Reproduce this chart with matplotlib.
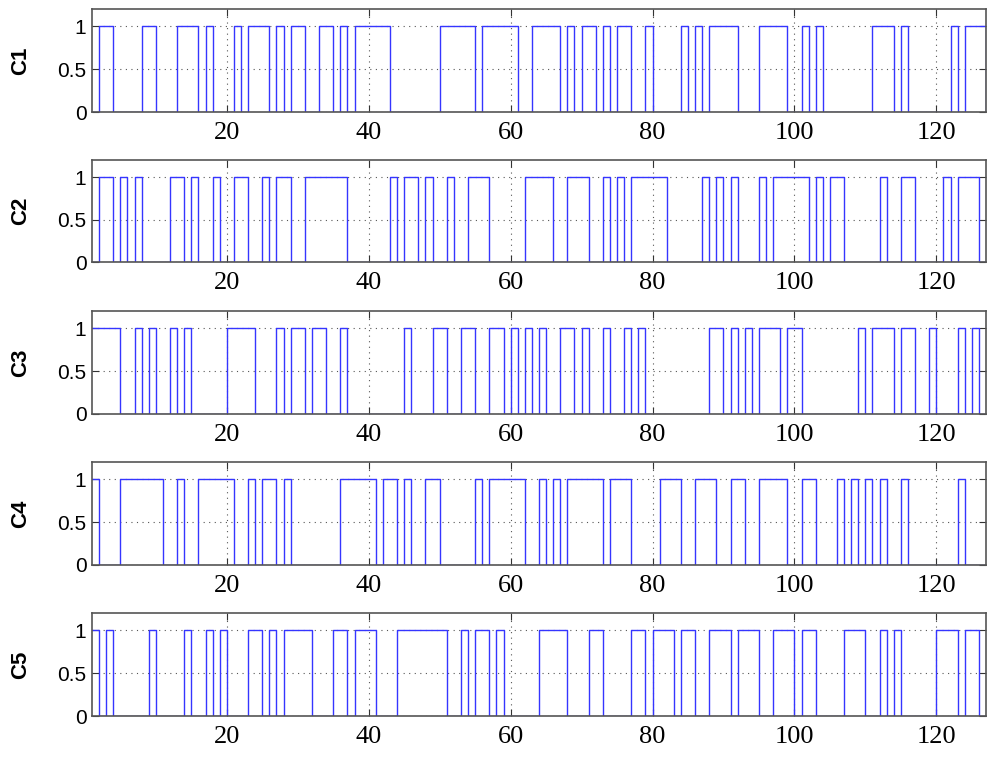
import matplotlib
matplotlib.use("Agg")
import matplotlib.pyplot as plt
import numpy as np

# sample positions (stairs drawn between integer samples)
x = np.arange(1, 128)

# "on" intervals (start, end) read from each channel
c1_on = [(2, 4), (8, 10), (13, 16), (17, 18), (21, 22), (23, 26), (27, 28), (29, 31),
         (33, 35), (36, 37), (38, 43), (50, 55), (56, 61), (63, 67), (68, 69), (70, 72),
         (73, 74), (75, 77), (79, 80), (84, 85), (86, 87), (88, 92), (95, 99), (101, 102),
         (103, 104), (111, 114), (115, 116), (122, 123), (124, 127)]
c2_on = [(2, 4), (5, 6), (7, 8), (12, 14), (15, 16), (18, 19), (21, 23), (25, 26),
         (27, 29), (31, 37), (43, 44), (45, 47), (48, 49), (51, 52), (54, 57), (62, 66),
         (68, 71), (73, 74), (75, 76), (77, 82), (87, 88), (89, 90), (91, 92), (95, 96),
         (97, 102), (103, 104), (105, 107), (112, 113), (115, 117), (121, 122), (123, 126)]
c3_on = [(1, 5), (7, 8), (9, 10), (12, 13), (14, 15), (20, 24), (27, 28), (29, 31),
         (32, 34), (36, 37), (45, 46), (49, 51), (53, 55), (57, 59), (60, 61), (62, 63),
         (64, 65), (67, 69), (70, 71), (73, 74), (76, 77), (78, 79), (88, 90), (91, 92),
         (93, 94), (95, 98), (99, 101), (109, 110), (111, 114), (115, 117), (119, 120),
         (123, 124), (125, 126)]
c4_on = [(1, 2), (5, 11), (13, 14), (16, 21), (23, 24), (25, 27), (28, 29), (36, 41),
         (42, 44), (45, 46), (48, 50), (55, 56), (57, 62), (64, 65), (66, 67), (68, 73),
         (74, 77), (81, 84), (86, 89), (91, 93), (95, 99), (101, 103), (106, 107),
         (108, 109), (110, 111), (112, 113), (115, 116), (123, 124)]
c5_on = [(1, 2), (3, 4), (9, 10), (14, 15), (17, 18), (19, 20), (23, 25), (26, 27),
         (28, 32), (35, 37), (38, 41), (44, 51), (53, 54), (55, 57), (58, 59), (64, 68),
         (71, 73), (77, 79), (80, 83), (84, 86), (88, 91), (92, 95), (97, 100), (101, 103),
         (107, 110), (112, 113), (114, 115), (120, 123), (124, 126)]

names = ["C1", "C2", "C3", "C4", "C5"]
channels = [c1_on, c2_on, c3_on, c4_on, c5_on]


def to_signal(intervals):
    y = np.zeros(len(x))
    for a, b in intervals:
        y[(x >= a) & (x < b)] = 1
    return y


fig = plt.figure(figsize=(9.88, 7.59), dpi=100)

# axes boxes in pixels (top, bottom)
boxes = [(9, 112), (160, 262), (311, 414), (462, 565), (613, 716)]
W, H = 988, 759
left, right = 92, 986

for name, on, (top, bot) in zip(names, channels, boxes):
    ax = fig.add_axes([left / W, 1 - bot / H, (right - left) / W, (bot - top) / H])
    ax.step(x, to_signal(on), where="post", color="#3535ff", lw=1.0)
    ax.set_xlim(1, 127)
    ax.set_ylim(0, 1.2)
    ax.set_xticks([20, 40, 60, 80, 100, 120])
    ax.set_yticks([0, 0.5, 1])
    ax.set_yticklabels(["0", "0.5", "1"])
    ax.grid(True, linestyle=(0, (1, 4)), color="#555555", lw=0.8)
    ax.tick_params(direction="in", length=5, top=True, right=True, color="#333333")
    ax.tick_params(axis="x", pad=7)
    ax.tick_params(axis="y", pad=4)
    for lab in ax.get_xticklabels():
        lab.set_fontfamily("Liberation Serif")
        lab.set_fontsize(19)
    for lab in ax.get_yticklabels():
        lab.set_fontfamily("Liberation Sans")
        lab.set_fontsize(15)
    for s in ax.spines.values():
        s.set_color("#555555")
        s.set_linewidth(1.2)
    ax.set_ylabel(name, fontfamily="Liberation Sans", fontweight="bold", fontsize=16)
    ax.yaxis.set_label_coords(-0.068, 0.5)

fig.savefig("out.png", dpi=100)
